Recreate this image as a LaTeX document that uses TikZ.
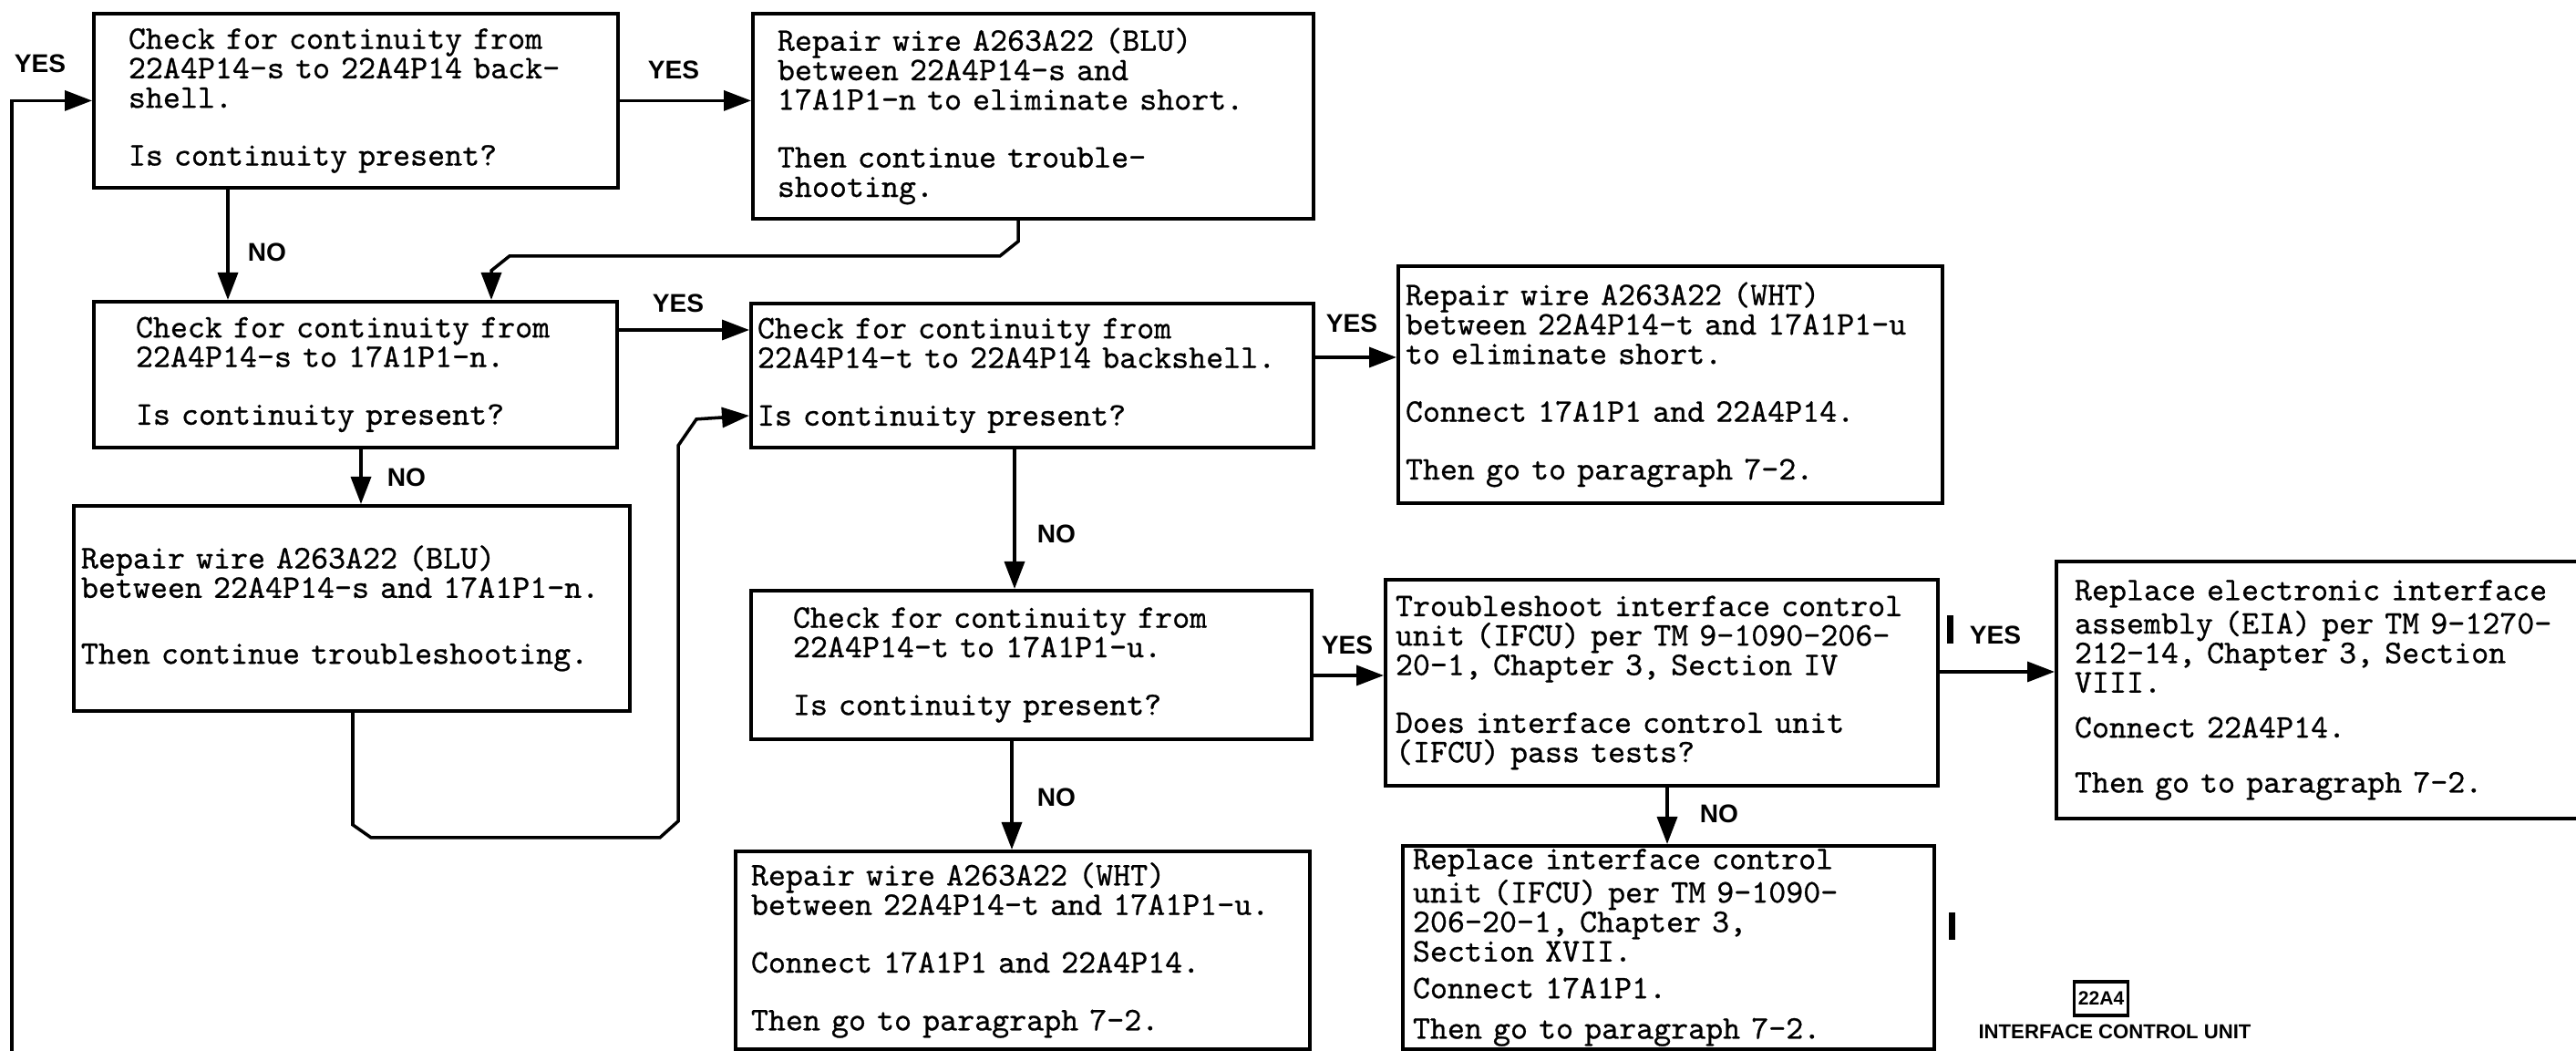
\documentclass[tikz,border=0pt]{standalone}
\usepackage{fontspec}
\setsansfont{Liberation Sans}
\newfontfamily\boxfont{Latin Modern Mono}[FakeBold=0.7]
\usetikzlibrary{arrows.meta}

\tikzset{
  stepbox/.style={draw, line width=1.1pt, anchor=north west, align=left, inner ysep=0pt,
    font=\boxfont\fontsize{10.3pt}{9.2pt}\selectfont},
  flow/.style={line width=1pt, -{Triangle[length=3mm, width=2.2mm]}},
  answer/.style={font=\sffamily\bfseries\fontsize{8pt}{9pt}\selectfont},
}

\begin{document}
\begin{tikzpicture}[x=1cm, y=-1cm]
  \useasboundingbox (0,0) rectangle (28.26,11.53);

  \node[stepbox, text width=4.99cm, inner xsep=0.38cm, minimum height=1.91cm] (chkSbs) at (1.01,0.13)
    {Check for continuity from\\22A4P14-s to 22A4P14 back-\\shell.\\[3.1mm]Is continuity present?};
  \node[stepbox, text width=5.61cm, inner xsep=0.27cm, minimum height=2.25cm] (fixSbs) at (8.24,0.13)
    {Repair wire A263A22 (BLU)\\between 22A4P14-s and\\17A1P1-n to eliminate short.\\[3.1mm]Then continue trouble-\\shooting.};
  \node[stepbox, text width=4.82cm, inner xsep=0.46cm, minimum height=1.60cm] (chkSn) at (1.01,3.29)
    {Check for continuity from\\22A4P14-s to 17A1P1-n.\\[3.1mm]Is continuity present?};
  \node[stepbox, text width=6.03cm, inner xsep=0.07cm, minimum height=1.58cm] (chkTbs) at (8.22,3.31)
    {Check for continuity from\\22A4P14-t to 22A4P14 backshell.\\[3.1mm]Is continuity present?};
  \node[stepbox, text width=5.81cm, inner xsep=0.08cm, minimum height=2.60cm] (fixTbs) at (15.32,2.90)
    {Repair wire A263A22 (WHT)\\between 22A4P14-t and 17A1P1-u\\to eliminate short.\\[3.1mm]Connect 17A1P1 and 22A4P14.\\[3.1mm]Then go to paragraph 7-2.};
  \node[stepbox, text width=5.94cm, inner xsep=0.08cm, minimum height=2.25cm] (fixSn) at (0.79,5.53)
    {Repair wire A263A22 (BLU)\\between 22A4P14-s and 17A1P1-n.\\[4mm]Then continue troubleshooting.};
  \node[stepbox, text width=5.23cm, inner xsep=0.46cm, minimum height=1.63cm] (chkTu) at (8.22,6.46)
    {Check for continuity from\\22A4P14-t to 17A1P1-u.\\[3.1mm]Is continuity present?};
  \node[stepbox, text width=5.84cm, inner xsep=0.11cm, minimum height=2.26cm] (ifcu) at (15.18,6.34)
    {Troubleshoot interface control\\unit (IFCU) per TM 9-1090-206-\\20-1, Chapter 3, Section IV\\[3.1mm]Does interface control unit\\(IFCU) pass tests?};
  \node[stepbox, text width=5.60cm, inner xsep=0.20cm, minimum height=2.82cm] (eia) at (22.54,6.14)
    {Replace electronic interface\\assembly (EIA) per TM 9-1270-\\212-14, Chapter 3, Section\\VIII.\\[1.7mm]Connect 22A4P14.\\[2.8mm]Then go to paragraph 7-2.};
  \node[stepbox, text width=5.96cm, inner xsep=0.17cm, minimum height=2.17cm] (fixTu) at (8.05,9.32)
    {Repair wire A263A22 (WHT)\\between 22A4P14-t and 17A1P1-u.\\[3.1mm]Connect 17A1P1 and 22A4P14.\\[3.1mm]Then go to paragraph 7-2.};
  \node[stepbox, text width=5.61cm, inner xsep=0.11cm, minimum height=2.23cm] (newifcu) at (15.37,9.26)
    {Replace interface control\\unit (IFCU) per TM 9-1090-\\206-20-1, Chapter 3,\\Section XVII.\\[0.8mm]Connect 17A1P1.\\[1.2mm]Then go to paragraph 7-2.};

  \coordinate (loop) at (0.13,11.53);
  \draw[flow] (loop) |- (chkSbs.west);
  \draw[flow] (chkSbs.east) -- (chkSbs.east -| fixSbs.west);
  \draw[flow] ([xshift=1.49cm]chkSbs.south west) -- ([xshift=1.49cm]chkSbs.south west |- chkSn.north);
  \draw[flow] ([xshift=2.93cm]fixSbs.south west) -- ++(0,0.23) -- ++(-0.20,0.16) -- ++(-5.38,0)
    -- ++(-0.20,0.16) -- ([xshift=4.38cm]chkSn.north west);
  \draw[flow] ([yshift=-0.33cm]chkSn.north east) -- ([yshift=-0.33cm]chkSn.north east -| chkTbs.west);
  \draw[flow] ([xshift=2.95cm]chkSn.south west) -- ([xshift=2.95cm]chkSn.south west |- fixSn.north);
  \draw[flow] ([xshift=3.08cm]fixSn.south west) -- ++(0,1.23) -- ++(0.20,0.14) -- ++(3.17,0)
    -- ++(0.20,-0.18) -- ++(0,-4.12) -- ++(0.20,-0.29) -- ([yshift=-1.25cm]chkTbs.north west);
  \draw[flow] ([yshift=-0.61cm]chkTbs.north east) -- ([yshift=-0.61cm]chkTbs.north east -| fixTbs.west);
  \draw[flow] ([xshift=2.91cm]chkTbs.south west) -- ([xshift=2.91cm]chkTbs.south west |- chkTu.north);
  \draw[flow] ([yshift=-0.95cm]chkTu.north east) -- ([yshift=-0.95cm]chkTu.north east -| ifcu.west);
  \draw[flow] ([xshift=2.88cm]chkTu.south west) -- ([xshift=2.88cm]chkTu.south west |- fixTu.north);
  \draw[flow] ([yshift=-1.03cm]ifcu.north east) -- ([yshift=-1.03cm]ifcu.north east -| eia.west);
  \draw[flow] ([xshift=3.11cm]ifcu.south west) -- ([xshift=3.11cm]ifcu.south west |- newifcu.north);

  \node[answer] (yes0) at (0.44,0.70) {YES};
  \node[answer] (yes1) at (7.39,0.77) {YES};
  \node[answer] (no1) at (2.93,2.77) {NO};
  \node[answer] (yes2) at (7.44,3.33) {YES};
  \node[answer] (no2) at (4.46,5.24) {NO};
  \node[answer] (yes3) at (14.83,3.55) {YES};
  \node[answer] (no3) at (11.59,5.86) {NO};
  \node[answer] (yes4) at (14.78,7.08) {YES};
  \node[answer] (no4) at (11.59,8.75) {NO};
  \node[answer] (yes5) at (21.89,6.97) {YES};
  \node[answer] (no5) at (18.86,8.93) {NO};

  \fill (21.36,6.75) rectangle (21.43,7.06);
  \fill (21.38,10.01) rectangle (21.45,10.31);

  \node[draw, line width=1pt, inner sep=0pt, minimum width=0.59cm, minimum height=0.37cm,
    font=\sffamily\bfseries\fontsize{6pt}{7pt}\selectfont] (tag) at (23.05,10.955) {22A4};
  \node[font=\sffamily\bfseries\fontsize{6.3pt}{7pt}\selectfont] (tagname) at (23.20,11.32) {INTERFACE CONTROL UNIT};
\end{tikzpicture}
\end{document}
